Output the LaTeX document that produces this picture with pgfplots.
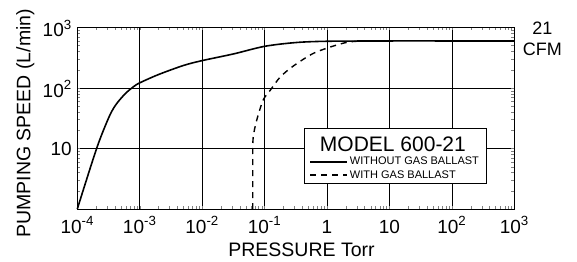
\documentclass[border=0pt]{standalone}
\usepackage{fontspec}
\setmainfont{Liberation Sans}
\usepackage{pgfplots}
\pgfplotsset{compat=1.18}
\begin{document}
\begin{tikzpicture}
\begin{axis}[
  name=ax,
  scale only axis,
  width=437bp, height=181.7bp,
  xmode=log, ymode=log,
  xmin=1e-4, xmax=1e3, ymin=1, ymax=1e3,
  clip=false,
  axis line style={black, line width=0.8pt},
  grid=major,
  major grid style={black, line width=0.6pt},
  major tick length=0pt,
  xtick={1e-4,1e-3,1e-2,1e-1,1,10,100,1000},
  xticklabels={10\textsuperscript{-4},10\textsuperscript{-3},10\textsuperscript{-2},10\textsuperscript{-1},1,10,10\textsuperscript{2},10\textsuperscript{3}},
  ytick={1,10,100,1000},
  yticklabels={,10,10\textsuperscript{2},10\textsuperscript{3}},
  /pgf/number format/assume math mode=true,
  tick label style={font=\fontsize{19bp}{21bp}\selectfont},
  xticklabel style={anchor=base, yshift=-24bp},
  yticklabel style={anchor=east, xshift=-2bp, yshift=-1bp},
  xlabel={PRESSURE Torr},
  ylabel={PUMPING SPEED (L/min)},
  xlabel style={font=\fontsize{19.5bp}{21bp}\selectfont, at={(axis description cs:0.513,-0.264)}, anchor=base},
  ylabel style={font=\fontsize{19.5bp}{21bp}\selectfont, at={(axis description cs:-0.1076,0.4725)}, anchor=base},
  legend style={at={(0.519,0.141)}, anchor=south west, draw=black, line width=0.6pt,
    font=\fontsize{11bp}{12bp}\selectfont, inner xsep=5bp, inner ysep=1.5bp, row sep=0pt,
    legend cell align=left},
  legend image code/.code={\draw[#1] (0bp,0bp) -- (37bp,0bp);},
]
\addlegendimage{empty legend}
\addlegendentry{\hspace*{-30bp}\fontsize{21bp}{24bp}\selectfont\rule[-5bp]{0pt}{25bp}MODEL 600-21}
\addplot[black, line width=1.6pt, smooth, tension=0.5] coordinates {
(1e-4,1) (2.04e-4,10) (3.16e-4,31.6) (4e-4,50) (5.0e-4,67) (6.3e-4,86) (8e-4,105)
(1e-3,121) (2e-3,166) (5e-3,234) (1e-2,282) (3.16e-2,363) (0.1,485)
(0.316,560) (1,588) (10,595) (100,595) (1000,595)};
\addlegendentry{WITHOUT GAS BALLAST}
\addplot[black, line width=1.4pt, dash pattern=on 6bp off 5bp, smooth, tension=0.5] coordinates {
(0.0646,1) (0.0646,6) (0.0655,14.8) (0.075,29.5) (0.095,63) (0.123,91)
(0.178,151) (0.29,230) (0.6,370) (1.26,490) (2.1,565) (3.16,590) (5,595)};
\addlegendentry{WITH GAS BALLAST}
\node[anchor=north, align=center, font=\fontsize{18bp}{21bp}\selectfont, inner sep=0pt]
  at ([xshift=28bp, yshift=6bp]rel axis cs:1,1) {21\\CFM};
\end{axis}
\pgfresetboundingbox
\path ([shift={(-77.3bp,-53bp)}]ax.south west) rectangle ([shift={(62.7bp,27.3bp)}]ax.north east);
\end{tikzpicture}
\end{document}
